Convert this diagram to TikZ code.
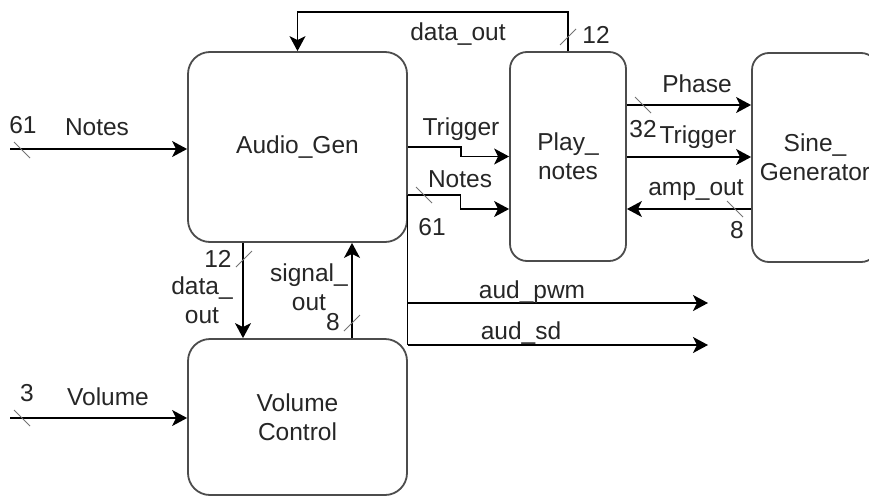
\documentclass[tikz,border=0pt]{standalone}
\usepackage{fontspec}
\setmainfont{Liberation Sans}
\usetikzlibrary{arrows.meta}
\begin{document}
\begin{tikzpicture}[x=1pt,y=-1pt,
  every node/.style={font=\fontsize{24.5}{29}\selectfont, text=black!85, inner sep=0pt},
  block/.style={draw=black!70, line width=1.8pt, fill=white, align=center},
  wire/.style={draw=black, line width=1.4pt},
  arr/.style={wire, -{Stealth[length=15pt,width=16pt,inset=4pt]}},
  bus/.style={draw=black!55, line width=0.9pt},
  lbl/.style={anchor=base, align=center}
]
\useasboundingbox (0,0) rectangle (869,498);

% blocks
\node[block, rounded corners=22pt, minimum width=219pt, minimum height=190pt] (ag) at (297.5,147) {Audio\_Gen};
\node[block, rounded corners=22pt, minimum width=219pt, minimum height=156pt] (vc) at (297.5,417) {Volume\\Control};
\node[block, rounded corners=17pt, minimum width=116pt, minimum height=209pt] (pn) at (568,156.5) {Play\_\\notes};
\node[block, rounded corners=17pt, minimum width=126pt, minimum height=209pt] (sg) at (815,157.5) {Sine\_\\Generator};

% free ends and taps
\coordinate (nin) at (10,149);
\coordinate (vin) at (10,418);
\coordinate (fb) at (0,12);
\coordinate (tap) at (407.5,195);
\coordinate (pwm) at (708,303);
\coordinate (sd) at (708,345);

% data_out feedback from Play_notes to Audio_Gen
\draw[arr] (pn.north) -- (pn.north |- fb) -- (ag.north |- fb) -- (ag.north);

% external inputs
\draw[arr] (nin) -- (ag.west |- nin);
\draw[arr] (vin) -- (vc.west |- vin);

% Audio_Gen to Play_notes
\draw[arr] (ag.east) -- ++(53,0) |- (pn.west);
\draw[arr] (tap) -- ++(53,0) |- (pn.west |- 0,209);

% audio outputs
\draw[wire] (tap) -- (tap |- sd);
\draw[arr] (tap |- pwm) -- (pwm);
\draw[arr] (tap |- sd) -- (sd);

% Play_notes <-> Sine_Generator
\draw[arr] (pn.east |- 0,105) -- (sg.west |- 0,105);
\draw[arr] (pn.east |- 0,157) -- (sg.west |- 0,157);
\draw[arr] (sg.west |- 0,209) -- (pn.east |- 0,209);

% Audio_Gen <-> Volume Control
\draw[arr] (ag.south -| 243,0) -- (vc.north -| 243,0);
\draw[arr] (vc.north -| 352,0) -- (ag.south -| 352,0);

% bus width marks
\draw[bus] (22,150) ++(-8,-8) -- ++(16,16);
\draw[bus] (22,418) ++(-8,-8) -- ++(16,16);
\draw[bus] (424,195) ++(-8,-8) -- ++(16,16);
\draw[bus] (643,105) ++(-8,-8) -- ++(16,16);
\draw[bus] (735,209) ++(-8,-8) -- ++(16,16);
\draw[bus] (568,37) ++(-8,8) -- ++(16,-16);
\draw[bus] (244,259) ++(-8,8) -- ++(16,-16);
\draw[bus] (352,323) ++(-8,8) -- ++(16,-16);

% connector labels (multi-line ones are placed by their last line)
\node[lbl] (l61a) at (23,133) {61};
\node[lbl] (lnotesin) at (97,135) {Notes};
\node[lbl] (l3) at (27,401) {3};
\node[lbl] (lvol) at (108,405) {Volume};
\node[lbl] (ldo) at (458,40) {data\_out};
\node[lbl] (l12a) at (596,43) {12};
\node[lbl] (ltrig) at (461,135) {Trigger};
\node[lbl] (lnotes) at (460,187) {Notes};
\node[lbl] (l61b) at (432,235) {61};
\node[lbl] (lphase) at (697,92) {Phase};
\node[lbl] (l32) at (643,137) {32};
\node[lbl] (ltrig2) at (698,143) {Trigger};
\node[lbl] (lamp) at (696,195) {amp\_out};
\node[lbl] (l8a) at (737,238) {8};
\node[lbl] (l12b) at (218,267) {12};
\node[lbl] (ldata) at (202,323) {data\_\\out};
\node[lbl] (lsig) at (309,310) {signal\_\\out};
\node[lbl] (l8b) at (333,330) {8};
\node[lbl] (lpwm) at (532,298) {aud\_pwm};
\node[lbl] (lsd) at (521,339) {aud\_sd};
\end{tikzpicture}
\end{document}
